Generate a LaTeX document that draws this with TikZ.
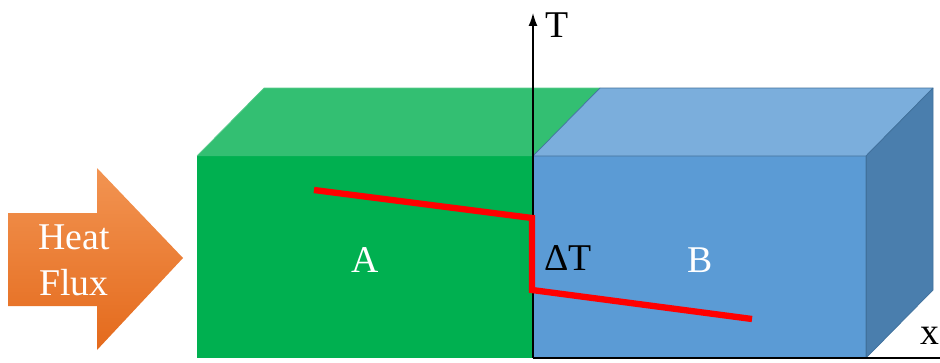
\documentclass[tikz,border=0pt]{standalone}
\usepackage{fontspec}
\setmainfont{Liberation Serif}
\usepackage{tikz}
\usetikzlibrary{arrows.meta,positioning,calc}

\definecolor{gfront}{HTML}{00B050}
\definecolor{gtop}{HTML}{33BF72}
\definecolor{bfront}{HTML}{5B9BD5}
\definecolor{btop}{HTML}{7BAEDC}
\definecolor{bside}{HTML}{4A7EAD}
\definecolor{bedge}{HTML}{41719C}
\definecolor{otop}{HTML}{F29452}
\definecolor{obot}{HTML}{E46A1C}

\begin{document}
\begin{tikzpicture}[
      face/.style={line width=0.4pt,line join=round},
      lbl/.style={font=\fontsize{21.5}{26}\selectfont,inner sep=0pt},
      axis/.style={draw=black,line width=0.8pt},
      profile/.style={draw=red,line width=3.6pt,line join=miter}]
    \useasboundingbox (0,0) rectangle (18.8,7.24);
    % corners of the two blocks
    \coordinate (A0) at (3.94,0.08);
    \coordinate (O)  at (10.66,0.08);
    \coordinate (B1) at (17.32,0.08);
    \coordinate (d)  at (1.34,1.36);
    \coordinate (A0t) at (3.94,4.12);
    \coordinate (Ot)  at (10.66,4.12);
    \coordinate (B1t) at (17.32,4.12);
    % block A
    \fill[gfront] (A0) rectangle (Ot);
    \fill[gtop] (A0t) -- ($(A0t)+(d)$) -- ($(Ot)+(d)$) -- (Ot) -- cycle;
    \draw[face,draw=gtop!80!white] (A0t) -- ($(A0t)+(d)$) -- ($(Ot)+(d)$);
    % block B
    \fill[bfront] (O) rectangle (B1t);
    \filldraw[face,fill=btop,draw=bedge] (Ot) -- ($(Ot)+(d)$) -- ($(B1t)+(d)$) -- (B1t) -- cycle;
    \filldraw[face,fill=bside,draw=bedge] (B1) -- (B1t) -- ($(B1t)+(d)$) -- ($(B1)+(d)$) -- cycle;
    \draw[face,draw=bedge] (O) -- (B1) -- (B1t);
    % axes
    \coordinate (Ttop) at (10.66,6.98);
    \coordinate (Xend) at (18.8,0.08);
    \draw[axis,-{Latex[length=2.6mm,width=1.8mm]}] (O) -- (Ttop);
    \draw[axis] (O) -- (Xend);
    \node[lbl,anchor=west] (Tlbl) at (10.9,6.74) {T};
    \node[lbl] (Xlbl) at (18.6,0.52) {x};
    % temperature profile
    \coordinate (P1) at (6.28,3.44);
    \coordinate (P2) at (10.64,2.88);
    \coordinate (P3) at (10.64,1.44);
    \coordinate (P4) at (15.04,0.86);
    \draw[profile] (P1) -- (P2) -- (P3) -- (P4);
    \node[lbl,text=white] (Albl) at (7.3,2.04) {A};
    \node[lbl,text=white] (Blbl) at (14.0,2.04) {B};
    \node[lbl] (dT) at (11.36,2.08) {ΔT};
    % heat flux arrow
    \shade[top color=otop,bottom color=obot]
      (0.16,1.12) -- (0.16,2.98) -- (1.94,2.98) -- (1.94,3.88) -- (3.66,2.08)
      -- (1.94,0.24) -- (1.94,1.12) -- cycle;
    \node[lbl,text=white,align=center] (flux) at (1.48,2.04) {Heat\\Flux};
  \end{tikzpicture}
\end{document}
